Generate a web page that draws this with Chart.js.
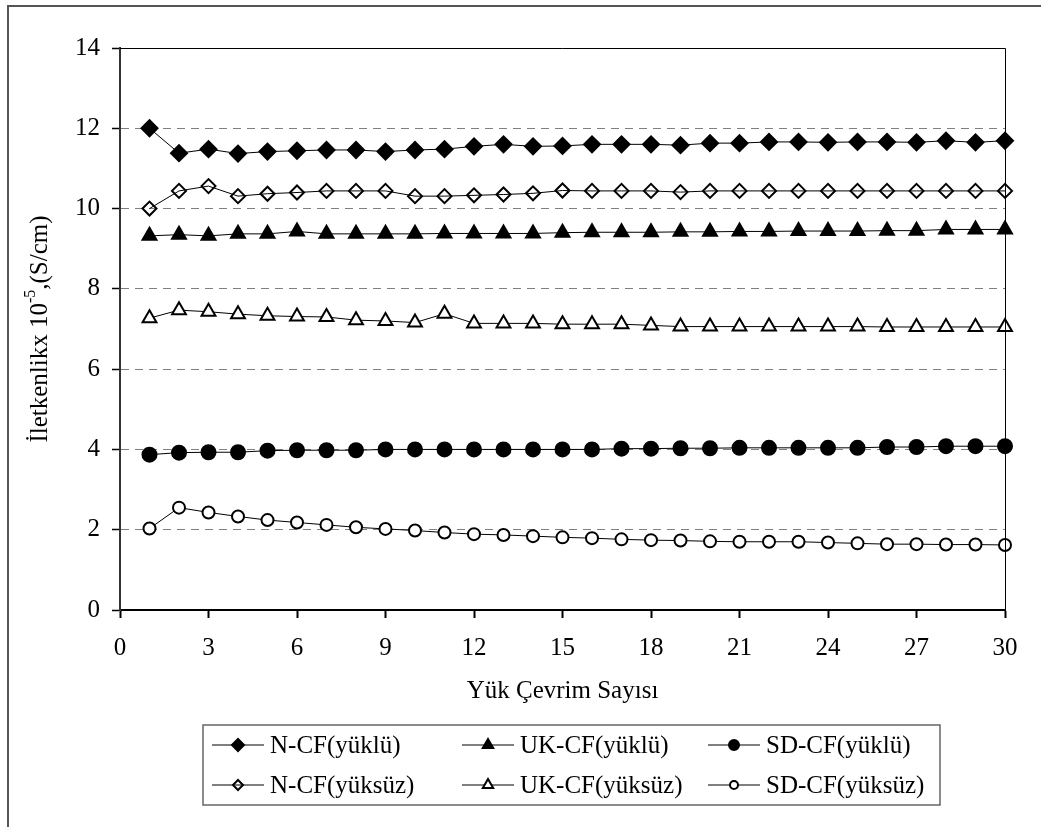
<!DOCTYPE html>
<html>
<head>
<meta charset="utf-8">
<script src="https://cdn.jsdelivr.net/npm/chart.js@4.4.0/dist/chart.umd.min.js"></script>
<style>
  html, body { margin: 0; padding: 0; background: #fff; }
</style>
</head>
<body>
<canvas id="lineChart" width="1041" height="827"></canvas>
<script>
// x values (load cycle number)
const cycles = [1, 2, 3, 4, 5, 6, 7, 8, 9, 10, 11, 12, 13, 14, 15,
  16, 17, 18, 19, 20, 21, 22, 23, 24, 25, 26, 27, 28, 29, 30];

const xTicks = [0, 3, 6, 9, 12, 15, 18, 21, 24, 27, 30];
const yTicks = [0, 2, 4, 6, 8, 10, 12, 14];

const seriesNames = ["N-CF(yüklü)", "UK-CF(yüklü)", "SD-CF(yüklü)",
  "N-CF(yüksüz)", "UK-CF(yüksüz)", "SD-CF(yüksüz)"];

const nCfLoaded = [12.0, 11.38, 11.48, 11.37, 11.42, 11.44, 11.46, 11.46, 11.42, 11.46,
  11.48, 11.55, 11.6, 11.55, 11.56, 11.6, 11.6, 11.6, 11.58, 11.63,
  11.63, 11.66, 11.66, 11.65, 11.66, 11.66, 11.65, 11.69, 11.65, 11.69];
const ukCfLoaded = [9.32, 9.35, 9.32, 9.37, 9.37, 9.43, 9.37, 9.37, 9.37, 9.37,
  9.38, 9.38, 9.38, 9.38, 9.4, 9.41, 9.41, 9.41, 9.42, 9.42,
  9.43, 9.43, 9.44, 9.44, 9.44, 9.45, 9.45, 9.48, 9.48, 9.48];
const sdCfLoaded = [3.87, 3.92, 3.93, 3.93, 3.97, 3.98, 3.98, 3.98, 4.0, 4.0,
  4.0, 4.0, 4.0, 4.0, 4.0, 4.0, 4.02, 4.02, 4.03, 4.03,
  4.04, 4.04, 4.04, 4.04, 4.04, 4.06, 4.06, 4.08, 4.08, 4.08];
const nCfUnloaded = [10.0, 10.44, 10.56, 10.31, 10.37, 10.4, 10.44, 10.44, 10.44, 10.31,
  10.31, 10.33, 10.35, 10.38, 10.45, 10.44, 10.44, 10.44, 10.41, 10.44,
  10.44, 10.44, 10.44, 10.44, 10.44, 10.44, 10.44, 10.44, 10.44, 10.44];
const ukCfUnloaded = [7.27, 7.47, 7.43, 7.37, 7.33, 7.31, 7.3, 7.22, 7.2, 7.16,
  7.38, 7.14, 7.14, 7.14, 7.12, 7.12, 7.12, 7.09, 7.06, 7.06,
  7.06, 7.06, 7.06, 7.06, 7.06, 7.05, 7.05, 7.05, 7.05, 7.05];
const sdCfUnloaded = [2.03, 2.55, 2.43, 2.33, 2.24, 2.18, 2.12, 2.06, 2.02, 1.98,
  1.93, 1.89, 1.87, 1.84, 1.81, 1.79, 1.76, 1.74, 1.73, 1.71,
  1.7, 1.7, 1.7, 1.68, 1.66, 1.64, 1.64, 1.63, 1.63, 1.62];

const FONT = "'Liberation Serif', 'Times New Roman', serif";
const FONT_SIZE = 25;

function series(label, values, style, radius, fill) {
  return {
    label: label,
    data: values.map((v, i) => ({ x: cycles[i], y: v })),
    borderColor: "#000",
    borderWidth: 1,
    pointStyle: style,
    pointRadius: radius,
    pointBorderWidth: 2,
    pointBorderColor: "#000",
    pointBackgroundColor: fill,
    legendRadius: radius - 2,
    tension: 0,
    clip: false,
  };
}

/**
 * Frame, axis titles and the boxed legend under the plot
 */
const decorations = {
  id: "decorations",
  afterDatasetsDraw(chart) {
    const { ctx, chartArea: a } = chart;
    ctx.save();

    // outer border (left and top only visible)
    ctx.strokeStyle = "#555";
    ctx.lineWidth = 2;
    ctx.beginPath();
    ctx.moveTo(8, 830);
    ctx.lineTo(8, 6);
    ctx.lineTo(1045, 6);
    ctx.stroke();

    // plot frame top and right
    ctx.strokeStyle = "#000";
    ctx.lineWidth = 1;
    ctx.beginPath();
    ctx.moveTo(a.left, a.top + 0.5);
    ctx.lineTo(a.right + 0.5, a.top + 0.5);
    ctx.lineTo(a.right + 0.5, a.bottom);
    ctx.stroke();

    ctx.fillStyle = "#000";
    ctx.textBaseline = "middle";

    // x title
    ctx.font = FONT_SIZE + "px " + FONT;
    ctx.textAlign = "center";
    ctx.fillText("Yük Çevrim Sayısı", (a.left + a.right) / 2, 691);

    // y title with superscript
    const parts = [
      { t: "İletkenlikx 10", size: FONT_SIZE, dy: 0 },
      { t: "-5", size: 16, dy: -9 },
      { t: ",(S/cm)", size: FONT_SIZE, dy: 0 },
    ];
    let total = 0;
    parts.forEach((p) => {
      ctx.font = p.size + "px " + FONT;
      p.w = ctx.measureText(p.t).width;
      total += p.w;
    });
    ctx.translate(40, (a.top + a.bottom) / 2);
    ctx.rotate(-Math.PI / 2);
    ctx.textAlign = "left";
    let px = -total / 2;
    parts.forEach((p) => {
      ctx.font = p.size + "px " + FONT;
      ctx.fillText(p.t, px, p.dy);
      px += p.w;
    });
    ctx.setTransform(1, 0, 0, 1, 0, 0);

    // legend
    const box = { left: 203, top: 725, right: 940, bottom: 805 };
    ctx.strokeStyle = "#666";
    ctx.lineWidth = 1.5;
    ctx.strokeRect(box.left, box.top, box.right - box.left, box.bottom - box.top);

    const cols = [212, 462, 708];
    const rows = [745, 785];
    const segLen = 52;
    ctx.font = FONT_SIZE + "px " + FONT;
    ctx.textAlign = "left";
    chart.data.datasets.forEach((ds, i) => {
      const x0 = cols[i % 3];
      const y0 = rows[Math.floor(i / 3)];
      ctx.strokeStyle = "#000";
      ctx.lineWidth = 1;
      ctx.beginPath();
      ctx.moveTo(x0, y0);
      ctx.lineTo(x0 + segLen, y0);
      ctx.stroke();
      ctx.fillStyle = ds.pointBackgroundColor;
      ctx.strokeStyle = "#000";
      ctx.lineWidth = 2;
      Chart.helpers.drawPoint(ctx, {
        pointStyle: ds.pointStyle,
        radius: ds.legendRadius,
        rotation: 0,
        borderWidth: 2,
      }, x0 + segLen / 2, y0);
      ctx.fillStyle = "#000";
      ctx.fillText(ds.label, x0 + segLen + 6, y0 + 1);
    });

    ctx.restore();
  },
};

function drawLineChart() {
  const ctx = document.getElementById("lineChart").getContext("2d");

  new Chart(ctx, {
    type: "line",
    data: {
      datasets: [
        series(seriesNames[0], nCfLoaded, "rectRot", 8, "#000"),
        series(seriesNames[1], ukCfLoaded, "triangle", 8, "#000"),
        series(seriesNames[2], sdCfLoaded, "circle", 7, "#000"),
        series(seriesNames[3], nCfUnloaded, "rectRot", 7, "rgba(0,0,0,0)"),
        series(seriesNames[4], ukCfUnloaded, "triangle", 8, "#fff"),
        series(seriesNames[5], sdCfUnloaded, "circle", 6, "#fff"),
      ],
    },
    options: {
      responsive: false,
      animation: false,
      devicePixelRatio: 1,
      layout: { padding: { left: 0, right: 36, top: 48, bottom: 0 } },
      plugins: {
        legend: { display: false },
        tooltip: { enabled: false },
      },
      scales: {
        x: {
          type: "linear",
          min: 0,
          max: 30,
          afterFit: (scale) => { scale.height = 217; },
          afterBuildTicks: (scale) => { scale.ticks = xTicks.map((v) => ({ value: v })); },
          ticks: {
            color: "#000",
            font: { family: FONT, size: FONT_SIZE },
            padding: 15,
            maxRotation: 0,
          },
          grid: {
            drawOnChartArea: false,
            drawTicks: true,
            tickLength: 8,
            tickColor: "#000",
            tickWidth: 2,
          },
          border: { color: "#000", width: 2 },
        },
        y: {
          min: 0,
          max: 14,
          afterFit: (scale) => { scale.width = 120; },
          afterBuildTicks: (scale) => { scale.ticks = yTicks.map((v) => ({ value: v })); },
          ticks: {
            color: "#000",
            font: { family: FONT, size: FONT_SIZE },
            padding: 12,
          },
          grid: {
            color: (c) => (c.tick && c.tick.value > 0 && c.tick.value < 14 ? "#808080" : "rgba(0,0,0,0)"),
            lineWidth: 1,
            drawTicks: true,
            tickLength: 8,
            tickColor: "#000",
            tickWidth: 1.5,
            tickBorderDash: [],
          },
          border: { color: "#333", width: 2, dash: [8, 6] },
        },
      },
    },
    plugins: [decorations],
  });
}

drawLineChart();
</script>
</body>
</html>
